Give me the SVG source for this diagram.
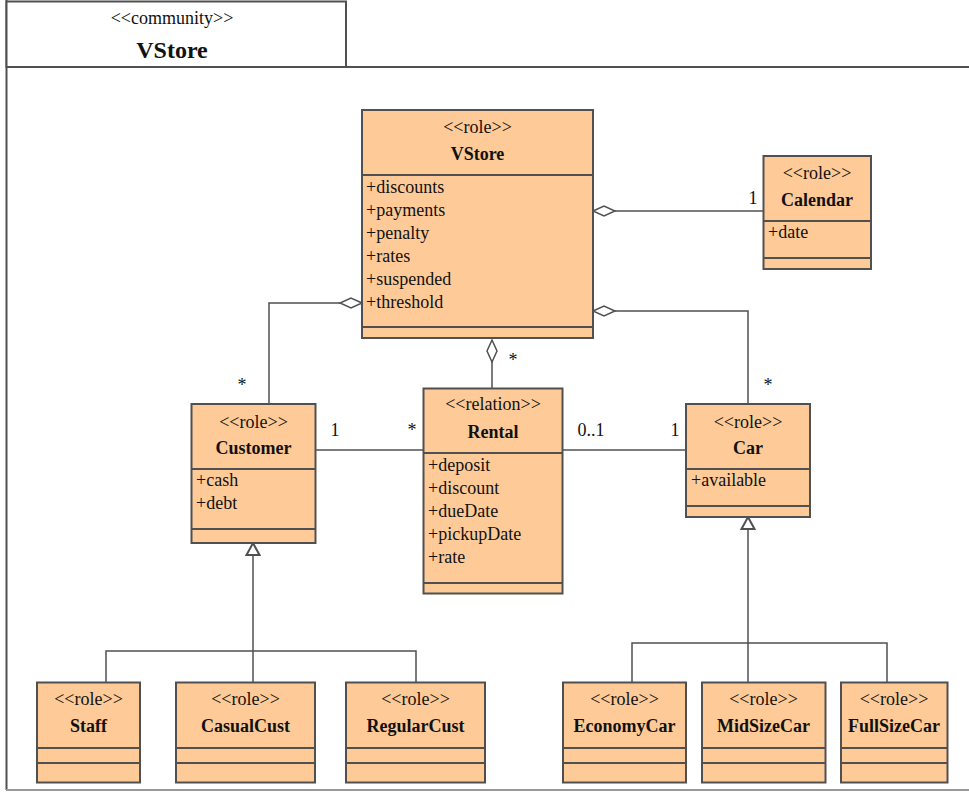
<svg xmlns="http://www.w3.org/2000/svg" width="969" height="792" viewBox="0 0 969 792">
<style>
.box{fill:#fecb98;stroke:#505050;stroke-width:2}
.div{stroke:#505050;stroke-width:2;fill:none}
.ln{stroke:#505050;stroke-width:1.5;fill:none}
.dia{fill:#fff;stroke:#505050;stroke-width:1.5}
.tri{fill:#fff;stroke:#505050;stroke-width:2}
text{font-family:'Liberation Serif','DejaVu Serif',serif;font-size:18px;fill:#111}
.st{text-anchor:middle}
.nm{text-anchor:middle;font-weight:bold}
</style>
<rect width="969" height="792" fill="#fff"/>
<g id="frame">
<line x1="6.5" y1="0" x2="6.5" y2="790" style="stroke:#505050;stroke-width:2"/>
<line x1="6" y1="67" x2="969" y2="67" style="stroke:#505050;stroke-width:2"/>
<line x1="6" y1="790" x2="969" y2="790" style="stroke:#999;stroke-width:2"/>
<rect x="6.5" y="1.5" width="339.5" height="65.5" fill="#fff" stroke="#505050" stroke-width="2"/>
<text x="172" y="23.5" class="st">&lt;&lt;community&gt;&gt;</text>
<text x="172" y="58" class="nm" style="font-size:24px">VStore</text>
</g>
<g id="connectors">
<polyline class="ln" points="615,211 763,211"/>
<polyline class="ln" points="340,303 269,303 269,404"/>
<polyline class="ln" points="615,311 748,311 748,404"/>
<polyline class="ln" points="492,362 492,388"/>
<polyline class="ln" points="316,450 423,450"/>
<polyline class="ln" points="563,450 686,450"/>
<polyline class="ln" points="253,555 253,651"/>
<polyline class="ln" points="106,682 106,651 416,651 416,682"/>
<polyline class="ln" points="253,651 253,682"/>
<polyline class="ln" points="748,529 748,682"/>
<polyline class="ln" points="632,682 632,643 887,643 887,682"/>
<polygon class="dia" points="593,211 604,206 615,211 604,216"/>
<polygon class="dia" points="362,303 351,298 340,303 351,308"/>
<polygon class="dia" points="593,311 604,306 615,311 604,316"/>
<polygon class="dia" points="492,340 497,351 492,362 487,351"/>
<polygon class="tri" points="253,543 259.5,555 246.5,555"/>
<polygon class="tri" points="748,517 754.5,529 741.5,529"/>
<text x="753" y="204" class="st">1</text>
<text x="242" y="391" class="st">*</text>
<text x="768" y="391" class="st">*</text>
<text x="513" y="366" class="st">*</text>
<text x="335" y="436" class="st">1</text>
<text x="412" y="436" class="st">*</text>
<text x="591" y="436" class="st">0..1</text>
<text x="675" y="436" class="st">1</text>
</g>
<g id="vstore">
<rect class="box" x="362" y="110" width="231" height="228"/>
<line class="div" x1="362" y1="175" x2="593" y2="175"/>
<line class="div" x1="362" y1="327" x2="593" y2="327"/>
<text x="477.5" y="133" class="st">&lt;&lt;role&gt;&gt;</text>
<text x="477.5" y="160" class="nm">VStore</text>
<text x="366" y="193">+discounts</text>
<text x="366" y="216">+payments</text>
<text x="366" y="239">+penalty</text>
<text x="366" y="262">+rates</text>
<text x="366" y="285">+suspended</text>
<text x="366" y="308">+threshold</text>
</g>
<g id="calendar">
<rect class="box" x="763.5" y="156" width="107.5" height="113"/>
<line class="div" x1="763.5" y1="221" x2="871" y2="221"/>
<line class="div" x1="763.5" y1="258" x2="871" y2="258"/>
<text x="817" y="178.5" class="st">&lt;&lt;role&gt;&gt;</text>
<text x="817" y="206" class="nm">Calendar</text>
<text x="768" y="237.5">+date</text>
</g>
<g id="customer">
<rect class="box" x="191.5" y="404" width="124" height="139"/>
<line class="div" x1="191.5" y1="469" x2="315.5" y2="469"/>
<line class="div" x1="191.5" y1="529" x2="315.5" y2="529"/>
<text x="253.5" y="427.5" class="st">&lt;&lt;role&gt;&gt;</text>
<text x="253.5" y="454" class="nm">Customer</text>
<text x="196" y="486">+cash</text>
<text x="196" y="509">+debt</text>
</g>
<g id="rental">
<rect class="box" x="423.5" y="388.5" width="139" height="205"/>
<line class="div" x1="423.5" y1="453" x2="562.5" y2="453"/>
<line class="div" x1="423.5" y1="583" x2="562.5" y2="583"/>
<text x="493" y="410" class="st">&lt;&lt;relation&gt;&gt;</text>
<text x="493" y="438" class="nm">Rental</text>
<text x="428" y="471">+deposit</text>
<text x="428" y="494">+discount</text>
<text x="428" y="517">+dueDate</text>
<text x="428" y="540">+pickupDate</text>
<text x="428" y="563">+rate</text>
</g>
<g id="car">
<rect class="box" x="686" y="404" width="124" height="113"/>
<line class="div" x1="686" y1="469" x2="810" y2="469"/>
<line class="div" x1="686" y1="506" x2="810" y2="506"/>
<text x="748" y="427.5" class="st">&lt;&lt;role&gt;&gt;</text>
<text x="748" y="454" class="nm">Car</text>
<text x="691" y="486">+available</text>
</g>
<g id="staff">
<rect class="box" x="37" y="682.5" width="103" height="100"/>
<line class="div" x1="37" y1="748" x2="140" y2="748"/>
<line class="div" x1="37" y1="763" x2="140" y2="763"/>
<text x="88.5" y="705" class="st">&lt;&lt;role&gt;&gt;</text>
<text x="88.5" y="732" class="nm">Staff</text>
</g>
<g id="casualcust">
<rect class="box" x="176" y="682.5" width="139" height="100"/>
<line class="div" x1="176" y1="748" x2="315" y2="748"/>
<line class="div" x1="176" y1="763" x2="315" y2="763"/>
<text x="245.5" y="705" class="st">&lt;&lt;role&gt;&gt;</text>
<text x="245.5" y="732" class="nm">CasualCust</text>
</g>
<g id="regularcust">
<rect class="box" x="346" y="682.5" width="139" height="100"/>
<line class="div" x1="346" y1="748" x2="485" y2="748"/>
<line class="div" x1="346" y1="763" x2="485" y2="763"/>
<text x="415.5" y="705" class="st">&lt;&lt;role&gt;&gt;</text>
<text x="415.5" y="732" class="nm">RegularCust</text>
</g>
<g id="economycar">
<rect class="box" x="563" y="682.5" width="123" height="100"/>
<line class="div" x1="563" y1="748" x2="686" y2="748"/>
<line class="div" x1="563" y1="763" x2="686" y2="763"/>
<text x="624.5" y="705" class="st">&lt;&lt;role&gt;&gt;</text>
<text x="624.5" y="732" class="nm">EconomyCar</text>
</g>
<g id="midsizecar">
<rect class="box" x="702" y="682.5" width="123.5" height="100"/>
<line class="div" x1="702" y1="748" x2="825.5" y2="748"/>
<line class="div" x1="702" y1="763" x2="825.5" y2="763"/>
<text x="763.5" y="705" class="st">&lt;&lt;role&gt;&gt;</text>
<text x="763.5" y="732" class="nm">MidSizeCar</text>
</g>
<g id="fullsizecar">
<rect class="box" x="841" y="682.5" width="106.5" height="100"/>
<line class="div" x1="841" y1="748" x2="947.5" y2="748"/>
<line class="div" x1="841" y1="763" x2="947.5" y2="763"/>
<text x="894" y="705" class="st">&lt;&lt;role&gt;&gt;</text>
<text x="894" y="732" class="nm">FullSizeCar</text>
</g>
</svg>
